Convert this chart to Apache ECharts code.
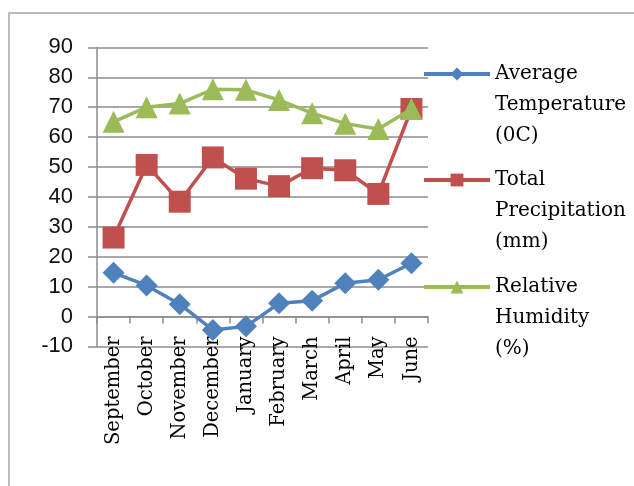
<!DOCTYPE html>
<html>
<head>
<meta charset="utf-8">
<script src="https://cdn.jsdelivr.net/npm/echarts@6/dist/echarts.min.js"></script>
<style>
html,body{margin:0;padding:0;background:#fff;}
#c{width:634px;height:486px;}
</style>
</head>
<body>
<div id="c"></div>
<script>
var months = ['September','October','November','December','January','February','March','April','May','June'];
var yTicks = {min: -10, max: 90, interval: 10};
var seriesNames = ['Average\nTemperature\n(0C)', 'Total\nPrecipitation\n(mm)', 'Relative\nHumidity\n(%)'];
var avgTemperature = [14.6, 10.4, 4.1, -4.5, -3.3, 4.4, 5.3, 11.1, 12.3, 17.8];
var totalPrecipitation = [26.4, 50.7, 38.4, 53.2, 46.1, 43.6, 49.6, 48.9, 41.0, 69.4];
var relativeHumidity = [65.1, 70.0, 71.2, 76.0, 75.8, 72.4, 68.0, 64.5, 62.7, 69.4];

var colors = ['#4F81BD', '#C0504D', '#9BBB59'];
var symbols = ['diamond', 'rect', 'triangle'];
var dataSets = [avgTemperature, totalPrecipitation, relativeHumidity];
var gridColor = '#8c8c8c';

var chart = echarts.init(document.getElementById('c'), null, {renderer: 'canvas'});

function legendFor(i, top) {
  return {
    data: [seriesNames[i]],
    left: 422,
    top: top,
    padding: 0,
    itemWidth: 66,
    itemHeight: 16,
    lineStyle: {width: 4},
    formatter: function (name) { return '\n\n' + name; },
    textStyle: {
      fontFamily: 'DejaVu Serif',
      fontSize: 20,
      lineHeight: 31,
      color: '#000'
    }
  };
}

var option = {
  backgroundColor: '#fff',
  animation: false,
  graphic: [{
    type: 'rect',
    shape: {x: 9, y: 13, width: 640, height: 490},
    style: {fill: 'none', stroke: '#a6a6a6', lineWidth: 1.5},
    z: -1
  }],
  legend: [legendFor(0, -3.5), legendFor(1, 102.5), legendFor(2, 209.5)],
  grid: {left: 97, right: 206, top: 47.4, bottom: 139.6},
  xAxis: {
    type: 'category',
    data: months,
    boundaryGap: true,
    axisLine: {show: true, onZero: true, lineStyle: {color: gridColor, width: 1.5}},
    axisTick: {show: true, length: 7, alignWithLabel: false, lineStyle: {color: gridColor, width: 1.5}},
    axisLabel: {
      rotate: 90,
      margin: -10,
      interval: 0,
      fontFamily: 'DejaVu Serif',
      fontSize: 19.5,
      color: '#000'
    },
    splitLine: {show: false}
  },
  yAxis: {
    type: 'value',
    min: yTicks.min,
    max: yTicks.max,
    interval: yTicks.interval,
    axisLine: {show: true, lineStyle: {color: gridColor, width: 1.5}},
    axisTick: {show: true, length: 9, lineStyle: {color: gridColor, width: 1.5}},
    axisLabel: {
      margin: 24,
      fontFamily: 'Liberation Sans',
      fontSize: 22,
      color: '#111'
    },
    splitLine: {show: true, lineStyle: {color: gridColor, width: 1.5}}
  },
  series: dataSets.map(function (d, i) {
    return {
      name: seriesNames[i],
      type: 'line',
      data: d,
      symbol: symbols[i],
      symbolSize: 22,
      showAllSymbol: true,
      color: colors[i],
      lineStyle: {color: colors[i], width: 3.5},
      itemStyle: {color: colors[i]},
      z: 2 + i
    };
  })
};
chart.setOption(option);
</script>
</body>
</html>
